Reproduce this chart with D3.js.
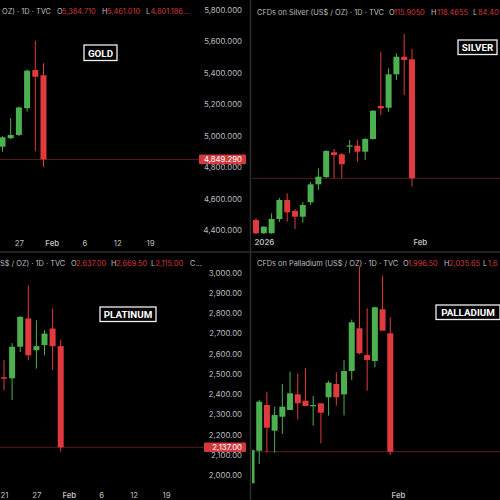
<!DOCTYPE html>
<html><head><meta charset="utf-8">
<script src="https://cdn.jsdelivr.net/npm/d3@7"></script>
<style>
html,body{margin:0;padding:0;background:#000;}
svg{display:block;font-family:Inter,"Noto Sans",sans-serif;}
text{white-space:pre;}
</style></head><body>
<svg id="c" width="500" height="500"></svg>
<script>
// ---------- GOLD ----------
const goldDates = ["01-23","01-26","01-27","01-28","01-29","01-30","02-02","02-03","02-04","02-05","02-06","02-09","02-10","02-11","02-12","02-13","02-17","02-18","02-19"];
const goldOpen  = [4930, 4984, 5005, 5175, 5418, 5384.71];
const goldHigh  = [4996, 5113, 5186, 5421, 5605, 5461.01];
const goldLow   = [4898, 4978, 4998, 5153, 4900, 4801.186];
const goldClose = [4990, 5005, 5180, 5414, 5375, 4849.29];
const goldTickDates  = ["01-27","02-02","02-06","02-12","02-19"];
const goldTickLabels = ["27","Feb","6","12","19"];
const goldYTicks = [4400,4600,4800,5000,5200,5400,5600,5800];

// ---------- SILVER ----------
const silverDates = ["12-31","01-02","01-05","01-06","01-07","01-08","01-09","01-12","01-13","01-14","01-15","01-16","01-20","01-21","01-22","01-23","01-26","01-27","01-28","01-29","01-30","02-02"];
const silverOpen  = [76.13,72.84,72.84,76.38,81.08,78.36,76.95,80.51,84.96,86.77,92.89,92.39,94.45,94.52,93.03,96.18,104.35,103.92,112.19,116.55,115.905];
const silverHigh  = [76.6,74.6,77.79,81.57,82.74,78.85,80.58,85.53,88.92,93.46,93.7,92.71,95.93,95.93,96.42,103.36,117.79,113.68,117.39,122.17,118.4655];
const silverLow   = [72.6,72.7,72.7,75.63,75.71,73.9,75.46,79.84,83.55,86.5,86.45,86.45,92.64,90.56,90.98,96.0,102.12,102.94,110.78,107.07,84.401];
const silverClose = [72.84,74.47,76.38,81.08,78.03,76.95,79.84,84.96,86.85,93.21,92.22,89.92,94.57,93.03,96.18,103.18,103.78,112.19,116.55,115.73,86.45];
const silverTickDates  = ["01-02","02-02"];
const silverTickLabels = ["2026","Feb"];

// ---------- PLATINUM ----------
const platDates = ["01-21","01-22","01-23","01-26","01-27","01-28","01-29","01-30","02-02","02-03","02-04","02-05","02-06","02-09","02-10","02-11","02-12","02-13","02-17","02-18","02-19"];
const platOpen  = [2483, 2478, 2634, 2774, 2617, 2642, 2724, 2637];
const platHigh  = [2568, 2652, 2785, 2938, 2765, 2716, 2823, 2669.5];
const platLow   = [2419, 2371, 2608, 2567, 2526, 2592, 2518, 2115];
const platClose = [2476, 2634, 2782, 2592, 2637, 2699, 2637, 2137];
const platTickDates  = ["01-21","01-27","02-02","02-06","02-12","02-19"];
const platTickLabels = ["21","27","Feb","6","12","19"];
const platYTicks = [2000,2100,2200,2300,2400,2500,2600,2700,2800,2900,3000];

// ---------- PALLADIUM ----------
const pallDates = ["01-05","01-06","01-07","01-08","01-09","01-12","01-13","01-14","01-15","01-16","01-20","01-21","01-22","01-23","01-26","01-27","01-28","01-29","01-30","02-02"];
const pallOpen  = [1629.5,1709.2,1821.1,1758.2,1792.4,1808.8,1847.2,1831.6,1818.6,1825.2,1839.9,1872.4,1847,1904.2,2008.7,1943.4,1928.7,2055.2,1996.5];
const pallHigh  = [1712,1833.3,1853.6,1816.9,1872.4,1902.5,1898.6,1910.9,1843.1,1825.2,1880.5,1901.1,1931.2,2030,2159.5,2057.7,2062,2136.7,2035.65];
const pallLow   = [1600,1676.7,1704.3,1704.3,1750.1,1808.8,1786.1,1818.6,1770.4,1727.3,1794.9,1819.3,1795.8,1882.2,1945,1856,1913.3,2002.9,1698.7];
const pallClose = [1710.9,1829.1,1765.5,1796.6,1816.9,1849.7,1825.2,1818.6,1821,1802.2,1875.6,1839.9,1904.2,2023.4,1947.6,1931.2,2060.1,2002.9,1706.8];
const pallTickDates  = ["02-02"];
const pallTickLabels = ["Feb"];

// ---------- style ----------
const UP = "#4caf50", DOWN = "#e03a3e";
const GRAY = "#bdbdbd", RED = "#d23a3e", LINE = "#5a1c20";
const BW = 6;

const svg = d3.select("#c");
svg.append("rect").attr("width",500).attr("height",500).attr("fill","#000");
const defs = svg.append("defs");

function panel(id, box){
  defs.append("clipPath").attr("id",id).append("rect")
    .attr("x",box[0]).attr("y",box[1]).attr("width",box[2]-box[0]).attr("height",box[3]-box[1]);
  return svg.append("g").attr("clip-path",`url(#${id})`);
}

function candles(g, dates, O, H, L, C, x, y){
  const data = O.map((o,i)=>({d:dates[i], o, h:H[i], l:L[i], c:C[i]}));
  const cg = g.append("g").selectAll("g").data(data).join("g");
  cg.append("line")
    .attr("x1",d=>x(d.d)).attr("x2",d=>x(d.d))
    .attr("y1",d=>y(d.h)).attr("y2",d=>y(d.l))
    .attr("stroke",d=>d.c>=d.o?UP:DOWN).attr("stroke-width",1);
  cg.append("rect")
    .attr("x",d=>x(d.d)-BW/2).attr("width",BW)
    .attr("y",d=>y(Math.max(d.o,d.c)))
    .attr("height",d=>Math.max(1.2,Math.abs(y(d.o)-y(d.c))))
    .attr("fill",d=>d.c>=d.o?UP:DOWN);
}

function priceLine(g, y, v, x0, x1){
  g.append("line").attr("x1",x0).attr("x2",x1).attr("y1",y(v)).attr("y2",y(v))
    .attr("stroke",LINE).attr("stroke-width",1);
}

function xAxis(g, x, ticks, labels, ty){
  const a = g.append("g").attr("transform",`translate(0,${ty})`)
    .call(d3.axisBottom(x).tickValues(ticks).tickFormat((d,i)=>labels[i]).tickSize(0).tickPadding(0));
  a.select(".domain").remove();
  a.selectAll("text").attr("fill",GRAY).attr("font-size",7.8)
    .attr("font-weight",(d,i)=>/[A-Za-z]|2026/.test(labels[i])?600:400)
    .attr("font-family","Inter,'Noto Sans',sans-serif");
}

function yAxis(g, y, ticks, fmt, tx){
  const a = g.append("g").attr("transform",`translate(${tx},0)`)
    .call(d3.axisLeft(y).tickValues(ticks).tickFormat(fmt).tickSize(0).tickPadding(0));
  a.select(".domain").remove();
  a.selectAll("text").attr("fill",GRAY).attr("font-size",7.8)
    .attr("font-family","Inter,'Noto Sans',sans-serif");
}

function header(g, ty, parts){
  const t = g.append("text").attr("y",ty).attr("font-size",7.4).attr("dominant-baseline","middle");
  parts.forEach(p=>{
    t.append("tspan").attr("x",p[0]).attr("fill",p[2]?RED:GRAY).text(p[1]);
  });
}

function tag(g, y, v, fmt, x0, x1, tx){
  const cy = y(v);
  g.append("rect").attr("x",x0).attr("y",cy-4.8).attr("width",x1-x0).attr("height",9.6)
    .attr("fill",RED).attr("rx",1);
  g.append("text").attr("x",tx).attr("y",cy).attr("text-anchor","end")
    .attr("dominant-baseline","central").attr("fill","#fff").attr("font-size",7.8)
    .text(fmt(v));
}

function nameBox(g, name, x0, y0, w, h){
  g.append("rect").attr("x",x0).attr("y",y0).attr("width",w).attr("height",h)
    .attr("fill","#000").attr("stroke","#f0f0f0").attr("stroke-width",1.3);
  g.append("text").attr("x",x0+w/2).attr("y",y0+h/2+0.5).attr("text-anchor","middle")
    .attr("dominant-baseline","central").attr("fill","#fff").attr("font-size",9.8)
    .attr("font-weight",700).attr("font-family","Roboto,'Liberation Sans',sans-serif").text(name);
}

// ===== GOLD (top-left) =====
{
  const g = panel("cpTL",[0,0,249,251]);
  const x = d3.scalePoint().domain(goldDates).range([2.5, 150.1]);
  const y = d3.scaleLinear().domain([4400,5800]).range([230,10]);
  priceLine(g, y, goldClose[goldClose.length-1], 0, 200);
  candles(g, goldDates, goldOpen, goldHigh, goldLow, goldClose, x, y);
  yAxis(g, y, goldYTicks, d3.format(",.3f"), 242);
  xAxis(g, x, goldTickDates, goldTickLabels, 240);
  tag(g, y, goldClose[goldClose.length-1], d3.format(",.3f"), 199, 246, 242);
  header(g, 12, [[2,"OZ) · 1D · TVC",0],[57,"O",0],[62,"5,384.710",1],[102,"H",0],[107,"5,461.010",1],[146,"L",0],[150.5,"4,801.186...",1]]);
  nameBox(g, "GOLD", 84, 45, 33, 15.5);
}

// ===== SILVER (top-right) =====
{
  const g = panel("cpTR",[252,0,500,251]);
  const x = d3.scalePoint().domain(silverDates).range([256, 419.8]);
  const y = d3.scaleLinear().domain([60,130]).range([285.16, 2.36]);
  priceLine(g, y, silverClose[silverClose.length-1], 252, 500);
  candles(g, silverDates, silverOpen, silverHigh, silverLow, silverClose, x, y);
  xAxis(g, x, silverTickDates, silverTickLabels, 239.5);
  header(g, 12.5, [[257,"CFDs on Silver (US$ / OZ) · 1D · TVC",0],[389,"O",0],[394,"115.9050",1],[431,"H",0],[437,"118.4655",1],[473,"L",0],[478,"84.401",1]]);
  nameBox(g, "SILVER", 458, 40, 39, 14.5);
}

// ===== PLATINUM (bottom-left) =====
{
  const g = panel("cpBL",[0,253,249,500]);
  const x = d3.scalePoint().domain(platDates).range([4, 166]);
  const y = d3.scaleLinear().domain([2000,3000]).range([475,272.7]);
  priceLine(g, y, platClose[platClose.length-1], 0, 204);
  candles(g, platDates, platOpen, platHigh, platLow, platClose, x, y);
  yAxis(g, y, platYTicks, d3.format(",.2f"), 242);
  xAxis(g, x, platTickDates, platTickLabels, 492);
  tag(g, y, platClose[platClose.length-1], d3.format(",.2f"), 204, 246, 242);
  header(g, 264, [[0,"S$ / OZ) · 1D · TVC",0],[71,"O",0],[76,"2,637.00",1],[111,"H",0],[116,"2,669.50",1],[151,"L",0],[155.5,"2,115.00",1],[190,"C...",0]]);
  nameBox(g, "PLATINUM", 100, 307, 56, 14.5);
}

// ===== PALLADIUM (bottom-right) =====
{
  const g = panel("cpBR",[252,253,500,500]);
  const x = d3.scalePoint().domain(pallDates).range([251.5, 398]);
  const y = d3.scaleLinear().domain([1600,2200]).range([495.35, 250.1]);
  priceLine(g, y, pallClose[pallClose.length-1], 252, 500);
  candles(g, pallDates, pallOpen, pallHigh, pallLow, pallClose, x, y);
  xAxis(g, x, pallTickDates, pallTickLabels, 492);
  header(g, 264, [[257,"CFDs on Palladium (US$ / OZ) · 1D · TVC",0],[403,"O",0],[408,"1,996.50",1],[444,"H",0],[449,"2,035.65",1],[483,"L",0],[488,"1,6",1]]);
  nameBox(g, "PALLADIUM", 436, 305, 64, 14.5);
}

// separators
svg.append("line").attr("x1",250.5).attr("x2",250.5).attr("y1",0).attr("y2",500).attr("stroke","#2c2c2c").attr("stroke-width",1.5);
svg.append("line").attr("x1",0).attr("x2",500).attr("y1",252).attr("y2",252).attr("stroke","#2c2c2c").attr("stroke-width",1.5);
</script>
</body></html>
